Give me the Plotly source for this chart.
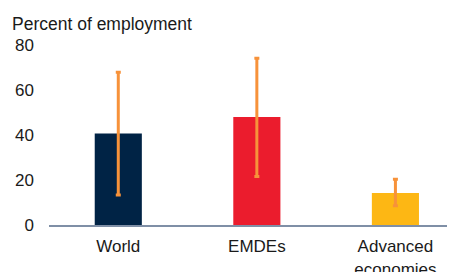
import plotly.graph_objects as go

categories = ["World", "EMDEs", "Advanced<br>economies"]
values = [40.7, 48.0, 14.2]
err_high = [67.9, 74.1, 20.3]
err_low = [13.3, 21.6, 8.6]
bar_colors = ["#002345", "#EB1C2D", "#FDB714"]
y_ticks = [0, 20, 40, 60, 80]

err_plus = [h - v for h, v in zip(err_high, values)]
err_minus = [v - l for v, l in zip(values, err_low)]

fig = go.Figure()
fig.add_trace(go.Bar(
    x=categories, y=values,
    marker=dict(color=bar_colors, line=dict(width=0)),
    width=0.34,
    error_y=dict(type="data", symmetric=False, array=err_plus, arrayminus=err_minus,
                 color="#F7923A", thickness=3, width=2.5),
))

fig.update_layout(
    width=455, height=272,
    margin=dict(l=41, r=8, t=37, b=55, autoexpand=False),
    paper_bgcolor="white", plot_bgcolor="white",
    font=dict(family="Liberation Sans, Arial, sans-serif", size=17, color="#1a1a1a"),
    showlegend=False,
    title=dict(text="Percent of employment", xref="container", yref="container",
               x=4/455, xanchor="left", y=1-16/272, yanchor="middle",
               font=dict(size=17.5, color="#1a1a1a")),
)
fig.update_xaxes(range=[-0.5, 2.43], showline=True, linecolor="#7F8FA6", linewidth=2,
                 ticks="", showgrid=False, zeroline=False, fixedrange=True,
                 automargin=False, ticklabelstandoff=5)
fig.update_yaxes(range=[0, 80], tickvals=y_ticks, showgrid=False, zeroline=False,
                 showline=False, ticks="", ticklabelstandoff=14, automargin=False)

fig.write_html("out.html")
